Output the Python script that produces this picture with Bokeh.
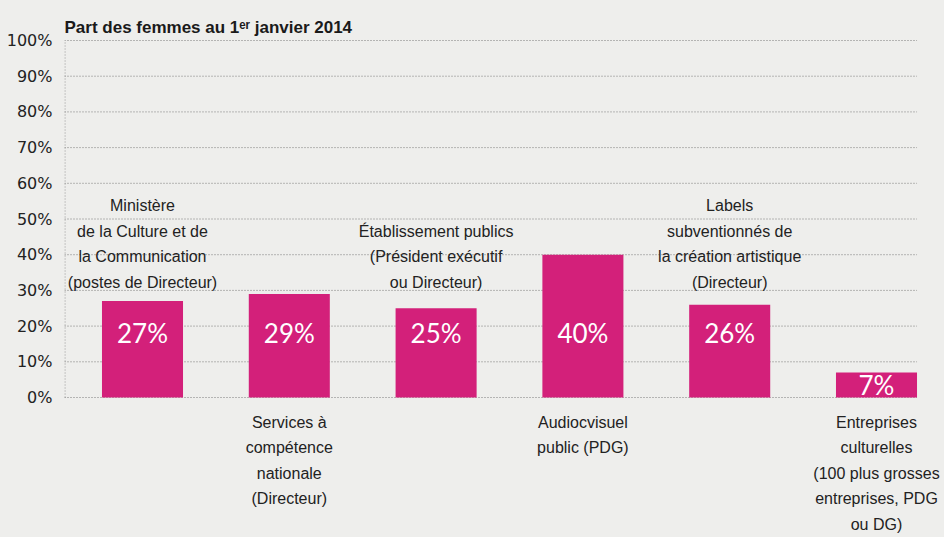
from bokeh.plotting import figure
from bokeh.models import Range1d, FixedTicker, ColumnDataSource
from bokeh.core.properties import value
from bokeh.embed import file_html
from bokeh.resources import INLINE

# ---- data ----
categories = [
    "Ministère\nde la Culture et de\nla Communication\n(postes de Directeur)",
    "Services à\ncompétence\nnationale\n(Directeur)",
    "Établissement publics\n(Président exécutif\nou Directeur)",
    "Audiocvisuel\npublic (PDG)",
    "Labels\nsubventionnés de\nla création artistique\n(Directeur)",
    "Entreprises\nculturelles\n(100 plus grosses\nentreprises, PDG\nou DG)",
]
shares = [27, 29, 25, 40, 26, 7]
y_ticks = [0, 10, 20, 30, 40, 50, 60, 70, 80, 90, 100]
y_tick_labels = {t: f"{t}%" for t in y_ticks}
title = "Part des femmes au 1ᵉʳ janvier 2014"

# ---- layout ----
W, H = 944, 537
BG = "#eeeeec"
BAR = "#d3207a"
GRID = "#7a7a7a"
FRAME_L = 64
Y0_PX, Y100_PX = 397, 40
ppu = (Y0_PX - Y100_PX) / 100.0
y_start = -(H - Y0_PX) / ppu
y_end = 100 + Y100_PX / ppu
C0, STEP = 142.0, 146.8
x_start = (FRAME_L - C0) / STEP
x_end = (W - C0) / STEP
BAR_W = 0.552
LABEL_FONT = "Liberation Sans"

def px_x(px):
    return (px - C0) / STEP

def px_y(py):
    return y_end - py / ppu

p = figure(width=W, height=H, output_backend="svg", toolbar_location=None,
           x_range=Range1d(x_start, x_end), y_range=Range1d(y_start, y_end),
           x_axis_type=None, min_border_left=FRAME_L, min_border_right=0,
           min_border_top=0, min_border_bottom=0)
p.background_fill_color = BG
p.border_fill_color = BG
p.outline_line_color = None
p.xgrid.visible = False
p.ygrid.visible = False

ax = p.yaxis[0]
ax.ticker = FixedTicker(ticks=y_ticks)
ax.major_label_overrides = y_tick_labels
ax.axis_line_color = None
ax.major_tick_line_color = None
ax.minor_tick_line_color = None
ax.major_tick_out = 0
ax.major_label_standoff = 12
ax.major_label_text_font = "DejaVu Sans"
ax.major_label_text_font_size = "16px"
ax.major_label_text_color = "#222222"

xs = list(range(len(shares)))
grid_x1 = xs[-1] + BAR_W / 2
# dotted horizontal grid lines (stop at the last bar) and left axis line
p.segment(x0=[x_start] * len(y_ticks), y0=y_ticks, x1=[grid_x1] * len(y_ticks), y1=y_ticks,
          line_color=GRID, line_dash="1 2", line_width=1)
p.segment(x0=[x_start + 0.003], y0=[y_ticks[0]], x1=[x_start + 0.003], y1=[y_ticks[-1]],
          line_color=GRID, line_dash="1 2", line_width=1)

src = ColumnDataSource(dict(
    x=xs, top=shares,
    lab=[f"{s}%" for s in shares],
    laby=[18 if s >= 20 else s / 2 for s in shares],
))
p.vbar(x="x", top="top", bottom=0, width=BAR_W, source=src,
       fill_color=BAR, line_color=None)
p.text(x="x", y="laby", text="lab", source=src, text_color="white",
       text_font=value("Lato"), text_font_size="26px",
       text_align="center", text_baseline="middle")

up_x = [i for i in xs if i % 2 == 0]
up_t = [categories[i] for i in up_x]
dn_x = [i for i in xs if i % 2 == 1]
dn_t = [categories[i] for i in dn_x]
p.text(x=up_x, y=[px_y(290)] * len(up_x), text=up_t, text_color="#222222",
       text_font=value(LABEL_FONT), text_font_size="16px", text_line_height=1.5,
       text_align="center", text_baseline="bottom")
p.text(x=dn_x, y=[px_y(413)] * len(dn_x), text=dn_t, text_color="#222222",
       text_font=value(LABEL_FONT), text_font_size="16px", text_line_height=1.5,
       text_align="center", text_baseline="top")

# title
p.text(x=[px_x(64)], y=[px_y(27)], text=[title], text_color="#1a1a1a",
       text_font=value("Liberation Sans"), text_font_size="17px", text_font_style="bold",
       text_align="left", text_baseline="alphabetic")

html = file_html(p, INLINE)
html = html.replace("<head>", "<head><style>html,body{margin:0;padding:0;overflow:hidden;background:#eeeeec}</style>", 1)
open("out.html", "w").write(html)
